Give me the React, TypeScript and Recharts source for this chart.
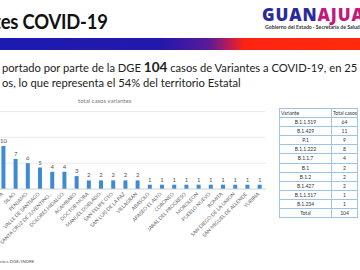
import React from 'react';
import { BarChart, Bar, XAxis, YAxis, CartesianGrid, LabelList } from 'recharts';

const municipios = [
  'CELAYA', 'SILAO', 'PENJAMO', 'VALLE DE SANTIAGO', 'SANTA CRUZ DE JUVENTINO...',
  'DOLORES HIDALGO', 'ACAMBARO', 'DOCTOR MORA', 'MANUEL DOBLADO', 'SAN FELIPE GTO',
  'SAN LUIS DE LA PAZ', 'VILLAGRAN', 'ABASOLO', 'APASEO EL ALTO', 'CORONEO',
  'JARAL DEL PROGRESO', 'MOROLEON', 'PUEBLO NUEVO', 'ROMITA', 'SAN DIEGO DE LA UNION',
  'SAN MIGUEL DE ALLENDE', 'YURIRIA',
];
const casos = [10, 7, 6, 5, 4, 4, 3, 2, 2, 2, 2, 2, 1, 1, 1, 1, 1, 1, 1, 1, 1, 1];
const yTicks = [0, 2, 4, 6, 8, 10, 12, 14, 16, 18];

const variantes = ['B.1.1.519', 'B.1.429', 'P.1', 'B.1.1.222', 'B.1.1.7', 'B.1', 'B.1.2', 'B.1.427', 'B.1.1.517', 'B.1.234'];
const totalCasos = [64, 11, 9, 8, 4, 2, 2, 2, 1, 1];
const totalGeneral = 104;

const chartData = municipios.map((m, i) => ({ name: m, value: casos[i] }));

const FONT = 'Lato, "Open Sans", sans-serif';

const Tick = (props: any) => {
  const { x, y, payload } = props;
  return (
    <g transform={`translate(${x - 1.5},${y + 4}) rotate(-45)`}>
      <text x={0} y={0} dy={2} textAnchor="end" fontSize={5} fill="#6d6d6d" fontFamily={FONT}>
        {payload.value}
      </text>
    </g>
  );
};

const border = '0.6px solid #9dc3e6';
const cell: React.CSSProperties = { border, padding: 0, height: 8.1, lineHeight: '8.1px', whiteSpace: 'nowrap', textAlign: 'center' };

export default function App() {
  return (
    <div style={{ position: 'absolute', left: 0, top: 0, width: 360, height: 270, overflow: 'hidden', background: '#fff', fontFamily: FONT }}>
      {/* Title */}
      <div style={{ position: 'absolute', right: 252, top: 11, lineHeight: 1, whiteSpace: 'nowrap', fontWeight: 700, fontSize: 20, color: '#111', letterSpacing: -0.2, transform: 'scaleX(0.92)', transformOrigin: 'right center' }}>
        Variantes COVID-19
      </div>
      {/* Logo */}
      <svg style={{ position: 'absolute', left: 260, top: 0 }} width={100} height={32}>
        <text x={2} y={21} fontSize={17} fontWeight={900} letterSpacing={0.9} fontFamily='"Open Sans", Lato, sans-serif'>
          <tspan fill="#2a2a9c">GUAN</tspan>
          <tspan fill="#c2197f">AJUATO</tspan>
        </text>
        <text x={5} y={29} fontSize={5.2} fontWeight={700} fill="#333" fontFamily={FONT}>
          Gobierno del Estado · Secretaría de Salud
        </text>
      </svg>
      {/* Gradient bar */}
      <div style={{ position: 'absolute', left: 0, top: 38, width: 360, height: 12, background: 'linear-gradient(90deg, #1b1bb0 0%, #2418ac 45%, #5a1a98 58%, #b01a60 63%, #ff2410 68%, #ff2a0c 100%)' }} />
      {/* Paragraph */}
      <div style={{ position: 'absolute', left: 2, top: 59, whiteSpace: 'nowrap', fontSize: 11.2, color: '#222' }}>
        portado por parte de la DGE <b style={{ fontSize: 13.5 }}>104</b> casos de Variantes a COVID-19, en 25
      </div>
      <div style={{ position: 'absolute', left: 2, top: 76, whiteSpace: 'nowrap', fontSize: 11.2, color: '#222' }}>
        os, lo que representa el 54% del territorio Estatal
      </div>
      {/* Chart title */}
      <div style={{ position: 'absolute', left: 78, top: 97, whiteSpace: 'nowrap', fontSize: 6, color: '#7a7a7a' }}>
        total casos variantes
      </div>
      {/* Chart */}
      <div style={{ position: 'absolute', left: -10, top: 95 }}>
        <BarChart width={290} height={175} data={chartData} margin={{ top: 16.6, right: 14.2, bottom: 0, left: 7.4 }} barCategoryGap="33%">
          <CartesianGrid vertical={false} stroke="#e4e4e4" strokeWidth={0.8} />
          <YAxis hide domain={[0, 18]} ticks={yTicks} />
          <XAxis dataKey="name" interval={0} height={81} tickLine={false} tickSize={0} tickMargin={0} axisLine={{ stroke: '#d6d6d6', strokeWidth: 0.8 }} tick={<Tick />} />
          <Bar dataKey="value" fill="#3f8bd2" isAnimationActive={false}>
            <LabelList dataKey="value" position="top" offset={3} fontSize={6} fill="#555" fontFamily={FONT} />
          </Bar>
        </BarChart>
      </div>
      {/* Table */}
      <table style={{ position: 'absolute', left: 279, top: 108, width: 78, borderCollapse: 'collapse', tableLayout: 'fixed', fontSize: 5, color: '#333', fontFamily: FONT }}>
        <colgroup>
          <col style={{ width: 52 }} />
          <col style={{ width: 26 }} />
        </colgroup>
        <tbody>
          <tr>
            <td style={{ ...cell, textAlign: 'left', paddingLeft: 1 }}>Variante</td>
            <td style={{ ...cell, textAlign: 'left', paddingLeft: 1, overflow: 'hidden' }}>Total casos</td>
          </tr>
          {variantes.map((v, i) => (
            <tr key={v}>
              <td style={cell}>{v}</td>
              <td style={cell}>{totalCasos[i]}</td>
            </tr>
          ))}
          <tr>
            <td style={cell}>Total</td>
            <td style={cell}>{totalGeneral}</td>
          </tr>
        </tbody>
      </table>
      {/* Source */}
      <div style={{ position: 'absolute', left: 0, top: 259, whiteSpace: 'nowrap', fontSize: 4.5, color: '#555' }}>
        ntes DGE/INDRE
      </div>
    </div>
  );
}
